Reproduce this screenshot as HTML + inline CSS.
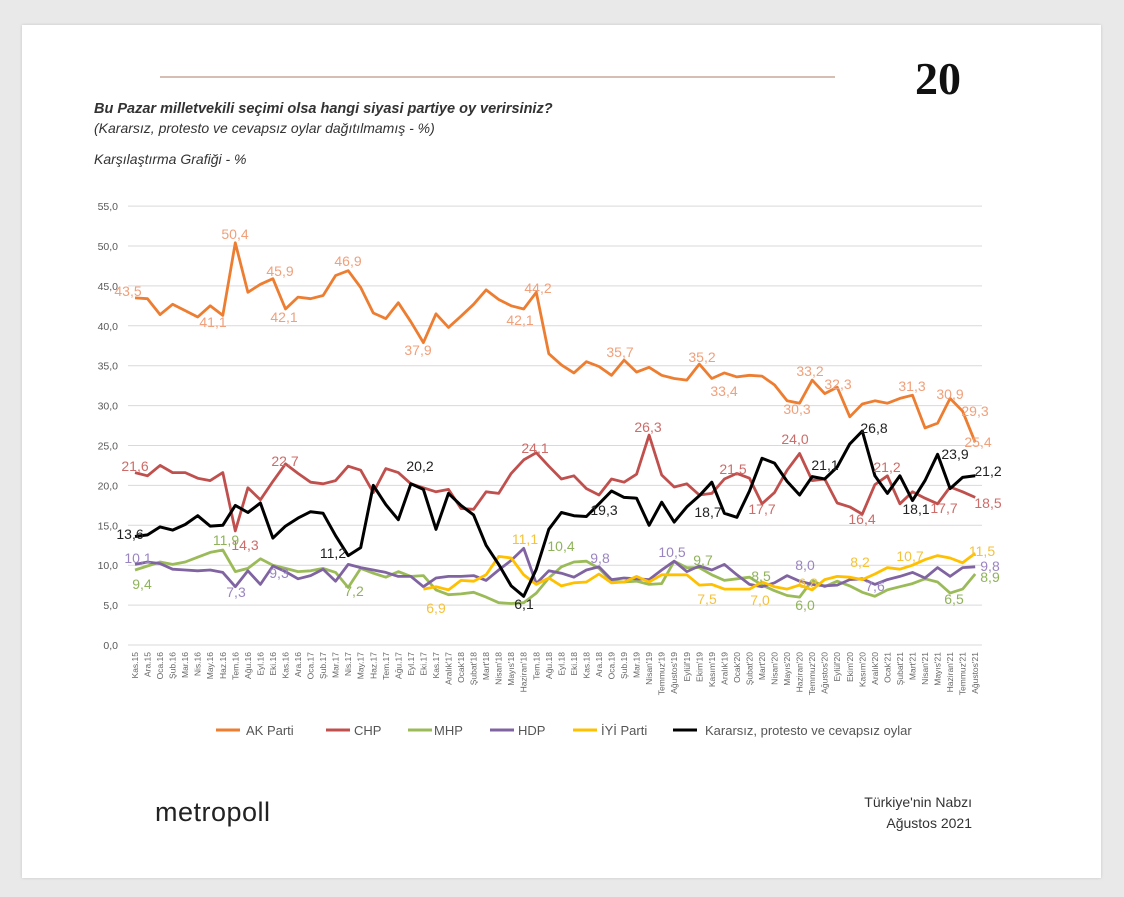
<!DOCTYPE html>
<html><head><meta charset="utf-8"><style>
body{margin:0;background:#e9e9e9;width:1124px;height:897px;overflow:hidden;font-family:"Liberation Sans",sans-serif}
.card{position:absolute;left:22px;top:25px;width:1079px;height:853px;background:#fff;box-shadow:0 0 3px rgba(0,0,0,.15)}
</style></head><body>
<div class="card"></div>
<svg id="s" width="1124" height="897" style="position:absolute;left:0;top:0" font-family="Liberation Sans, sans-serif">
<line x1="160" y1="77" x2="835" y2="77" stroke="#c9a99a" stroke-width="1.5"/>
<text x="938" y="94" font-family="Liberation Serif,serif" font-weight="bold" font-size="46" text-anchor="middle" fill="#111">20</text>
<text x="94" y="113" font-style="italic" font-weight="bold" font-size="14.5" fill="#333">Bu Pazar milletvekili seçimi olsa  hangi siyasi partiye oy verirsiniz?</text>
<text x="94" y="133" font-style="italic" font-size="14" fill="#333">(Kararsız, protesto ve cevapsız oylar dağıtılmamış - %)</text>
<text x="94" y="164" font-style="italic" font-size="14" fill="#333">Karşılaştırma Grafiği - %</text>
<g id="grid"></g><g id="lines"></g>
<g font-size="14">
<g fill="#f0a07a">
<text x="128" y="296" text-anchor="middle">43,5</text><text x="213" y="327" text-anchor="middle">41,1</text><text x="235" y="239" text-anchor="middle">50,4</text><text x="280" y="276" text-anchor="middle">45,9</text><text x="284" y="322" text-anchor="middle">42,1</text><text x="348" y="266" text-anchor="middle">46,9</text><text x="418" y="355" text-anchor="middle">37,9</text><text x="538" y="293" text-anchor="middle">44,2</text><text x="520" y="325" text-anchor="middle">42,1</text><text x="620" y="357" text-anchor="middle">35,7</text><text x="702" y="362" text-anchor="middle">35,2</text><text x="724" y="396" text-anchor="middle">33,4</text><text x="810" y="376" text-anchor="middle">33,2</text><text x="797" y="414" text-anchor="middle">30,3</text><text x="838" y="389" text-anchor="middle">32,3</text><text x="912" y="391" text-anchor="middle">31,3</text><text x="950" y="399" text-anchor="middle">30,9</text><text x="975" y="416" text-anchor="middle">29,3</text><text x="978" y="447" text-anchor="middle">25,4</text></g>
<g fill="#cd6c69">
<text x="135" y="471" text-anchor="middle">21,6</text><text x="245" y="550" text-anchor="middle">14,3</text><text x="285" y="466" text-anchor="middle">22,7</text><text x="535" y="453" text-anchor="middle">24,1</text><text x="648" y="432" text-anchor="middle">26,3</text><text x="733" y="474" text-anchor="middle">21,5</text><text x="762" y="514" text-anchor="middle">17,7</text><text x="795" y="444" text-anchor="middle">24,0</text><text x="862" y="524" text-anchor="middle">16,4</text><text x="887" y="472" text-anchor="middle">21,2</text><text x="944" y="513" text-anchor="middle">17,7</text><text x="988" y="508" text-anchor="middle">18,5</text></g>
<g fill="#222">
<text x="130" y="539" text-anchor="middle">13,6</text><text x="333" y="558" text-anchor="middle">11,2</text><text x="420" y="471" text-anchor="middle">20,2</text><text x="524" y="609" text-anchor="middle">6,1</text><text x="604" y="515" text-anchor="middle">19,3</text><text x="708" y="517" text-anchor="middle">18,7</text><text x="825" y="470" text-anchor="middle">21,1</text><text x="874" y="433" text-anchor="middle">26,8</text><text x="916" y="514" text-anchor="middle">18,1</text><text x="955" y="459" text-anchor="middle">23,9</text><text x="988" y="476" text-anchor="middle">21,2</text></g>
<g fill="#8fb35a">
<text x="142" y="589" text-anchor="middle">9,4</text><text x="226" y="545" text-anchor="middle">11,9</text><text x="354" y="596" text-anchor="middle">7,2</text><text x="561" y="551" text-anchor="middle">10,4</text><text x="703" y="565" text-anchor="middle">9,7</text><text x="761" y="581" text-anchor="middle">8,5</text><text x="805" y="610" text-anchor="middle">6,0</text><text x="954" y="604" text-anchor="middle">6,5</text><text x="990" y="582" text-anchor="middle">8,9</text></g>
<g fill="#9a85c0">
<text x="138" y="563" text-anchor="middle">10,1</text><text x="236" y="597" text-anchor="middle">7,3</text><text x="279" y="578" text-anchor="middle">9,3</text><text x="600" y="563" text-anchor="middle">9,8</text><text x="672" y="557" text-anchor="middle">10,5</text><text x="805" y="570" text-anchor="middle">8,0</text><text x="875" y="591" text-anchor="middle">7,6</text><text x="990" y="571" text-anchor="middle">9,8</text></g>
<g fill="#f5c23a">
<text x="436" y="613" text-anchor="middle">6,9</text><text x="525" y="544" text-anchor="middle">11,1</text><text x="707" y="604" text-anchor="middle">7,5</text><text x="760" y="605" text-anchor="middle">7,0</text><text x="808" y="588" text-anchor="middle">6,8</text><text x="860" y="567" text-anchor="middle">8,2</text><text x="910" y="561" text-anchor="middle">10,7</text><text x="982" y="556" text-anchor="middle">11,5</text></g>
</g>
<g id="xl" font-size="8.5" fill="#666"></g>
<g font-size="13" fill="#555">
<line x1="216" y1="730" x2="240" y2="730" stroke="#ed7d31" stroke-width="3"/><text x="246" y="735">AK Parti</text>
<line x1="326" y1="730" x2="350" y2="730" stroke="#c0504d" stroke-width="3"/><text x="354" y="735">CHP</text>
<line x1="408" y1="730" x2="432" y2="730" stroke="#9bbb59" stroke-width="3"/><text x="434" y="735">MHP</text>
<line x1="490" y1="730" x2="514" y2="730" stroke="#8064a2" stroke-width="3"/><text x="518" y="735">HDP</text>
<line x1="573" y1="730" x2="597" y2="730" stroke="#ffc000" stroke-width="3"/><text x="601" y="735">İYİ Parti</text>
<line x1="673" y1="730" x2="697" y2="730" stroke="#000" stroke-width="3"/><text x="705" y="735">Kararsız, protesto ve cevapsız oylar</text>
</g>
<text x="155" y="821" font-size="27" fill="#222" letter-spacing="0.5">metropoll</text>
<text x="972" y="807" font-size="14" fill="#333" text-anchor="end">Türkiye'nin Nabzı</text>
<text x="972" y="828" font-size="14" fill="#333" text-anchor="end">Ağustos 2021</text>
</svg>
<script>
var ns="http://www.w3.org/2000/svg";
function el(p,t,a,txt){var e=document.createElementNS(ns,t);for(var k in a)e.setAttribute(k,a[k]);if(txt!=null)e.textContent=txt;p.appendChild(e);return e;}
var Y=function(v){return 645-7.98*v}, X=function(i){return 135+12.54*i};
var g=document.getElementById('grid');
for(var v=0;v<=55;v+=5){el(g,'line',{x1:128,x2:982,y1:Y(v),y2:Y(v),stroke:'#d9d9d9','stroke-width':1});
el(g,'text',{x:118,y:Y(v)+4,'text-anchor':'end','font-size':10.5,fill:'#595959'},v.toFixed(1).replace('.',','));}
var labs="Kas.15,Ara.15,Oca.16,Şub.16,Mar.16,Nis.16,May.16,Haz.16,Tem.16,Ağu.16,Eyl.16,Eki.16,Kas.16,Ara.16,Oca.17,Şub.17,Mar.17,Nis.17,May.17,Haz.17,Tem.17,Ağu.17,Eyl.17,Eki.17,Kas.17,Aralık'17,Ocak'18,Şubat'18,Mart'18,Nisan'18,Mayıs'18,Haziran'18,Tem.18,Ağu.18,Eyl.18,Eki.18,Kas.18,Ara.18,Oca.19,Şub.19,Mar.19,Nisan'19,Temmuz'19,Ağustos'19,Eylül'19,Ekim'19,Kasım'19,Aralık'19,Ocak'20,Şubat'20,Mart'20,Nisan'20,Mayıs'20,Haziran'20,Temmuz'20,Ağustos'20,Eylül'20,Ekim'20,Kasım'20,Aralık'20,Ocak'21,Şubat'21,Mart'21,Nisan'21,Mayıs'21,Haziran'21,Temmuz'21,Ağustos'21".split(',');
var xl=document.getElementById('xl');
labs.forEach(function(l,i){var x=X(i)+3;el(xl,'text',{x:x,y:652,'text-anchor':'end',transform:'rotate(-90 '+x+' 652)'},l);});
var S=[
['#ed7d31',[43.5,43.4,41.4,42.7,41.9,41.1,42.5,41.3,50.4,44.2,45.2,45.9,42.1,43.6,43.4,43.8,46.3,46.9,44.8,41.6,40.9,42.9,40.5,37.9,41.5,39.8,41.2,42.7,44.5,43.3,42.5,42.1,44.2,36.5,35.1,34.1,35.5,34.9,33.8,35.7,34.2,34.8,33.8,33.4,33.2,35.2,33.4,34.1,33.6,33.8,33.7,32.6,30.6,30.3,33.2,31.5,32.3,28.6,30.2,30.6,30.3,30.9,31.3,27.2,27.8,30.9,29.3,25.4],0],
['#c0504d',[21.6,21.2,22.5,21.6,21.6,20.9,20.6,21.6,14.3,19.7,18.2,20.5,22.7,21.5,20.4,20.2,20.6,22.4,21.9,19.1,22.1,21.6,20.2,19.7,19.2,19.5,17.1,17.0,19.2,19.0,21.5,23.2,24.1,22.4,20.8,21.2,19.6,18.8,20.8,20.4,21.4,26.3,21.3,19.8,20.2,18.8,19.0,20.8,21.5,20.9,17.7,19.1,21.9,24.0,20.6,20.8,17.8,17.3,16.4,20.1,21.2,17.7,19.2,18.4,17.7,19.8,19.2,18.5],0],
['#9bbb59',[9.4,9.9,10.4,10.1,10.4,11.0,11.6,11.9,9.2,9.6,10.8,10.0,9.6,9.2,9.3,9.6,9.1,7.2,9.6,9.0,8.5,9.2,8.6,8.7,6.9,6.3,6.4,6.6,6.0,5.3,5.2,5.3,6.5,8.4,9.8,10.4,10.5,9.6,8.0,7.9,8.0,7.6,7.7,10.5,9.7,9.7,8.8,8.1,8.3,8.5,7.5,6.8,6.2,6.0,8.1,7.3,8.0,7.4,6.6,6.1,6.9,7.3,7.7,8.3,7.9,6.5,7.0,8.9],0],
['#8064a2',[10.1,10.4,10.2,9.5,9.4,9.3,9.4,9.1,7.3,9.3,7.6,9.9,9.2,8.3,8.7,9.5,8.0,10.1,9.7,9.4,9.1,8.6,8.6,7.3,8.4,8.6,8.6,8.7,8.1,9.4,10.6,12.1,7.7,9.3,9.0,8.5,9.4,9.8,8.2,8.4,8.3,8.2,9.4,10.5,9.2,9.9,9.4,10.1,8.8,7.6,7.3,7.8,8.7,8.0,7.6,7.4,7.5,8.2,8.3,7.6,8.2,8.6,9.1,8.4,9.7,8.6,9.7,9.8],0],
['#ffc000',[7.0,7.3,6.9,8.1,8.0,8.8,11.1,10.9,8.8,7.6,8.4,7.4,7.8,7.9,8.9,7.8,7.9,8.6,7.9,8.8,8.8,8.8,7.5,7.6,7.0,7.0,7.0,7.9,7.3,7.0,7.5,6.9,8.2,8.6,8.5,8.2,8.9,9.7,9.5,10.0,10.7,11.2,10.9,10.3,11.5],23],
['#000',[13.6,13.8,14.8,14.4,15.1,16.2,14.9,15.0,17.5,16.6,17.8,13.4,14.9,15.9,16.7,16.5,13.7,11.2,12.2,20.0,17.6,15.7,20.2,19.5,14.5,19.0,17.5,16.3,12.5,10.1,7.4,6.1,9.5,14.5,16.6,16.2,16.1,17.7,19.3,18.5,18.4,15.0,17.9,15.4,17.3,18.7,20.4,16.5,16.0,19.3,23.4,22.8,20.5,18.8,21.1,20.8,22.3,25.2,26.8,21.2,19.0,21.2,18.1,20.6,23.9,19.6,21.0,21.2],0]];
var L=document.getElementById('lines');
S.forEach(function(s){var p=s[1].map(function(v,i){return X(i+s[2]).toFixed(1)+','+Y(v).toFixed(1)}).join(' ');
el(L,'polyline',{points:p,fill:'none',stroke:s[0],'stroke-width':s[0]=='#000'?3:2.8,'stroke-linejoin':'round'});});
</script>
</body></html>
